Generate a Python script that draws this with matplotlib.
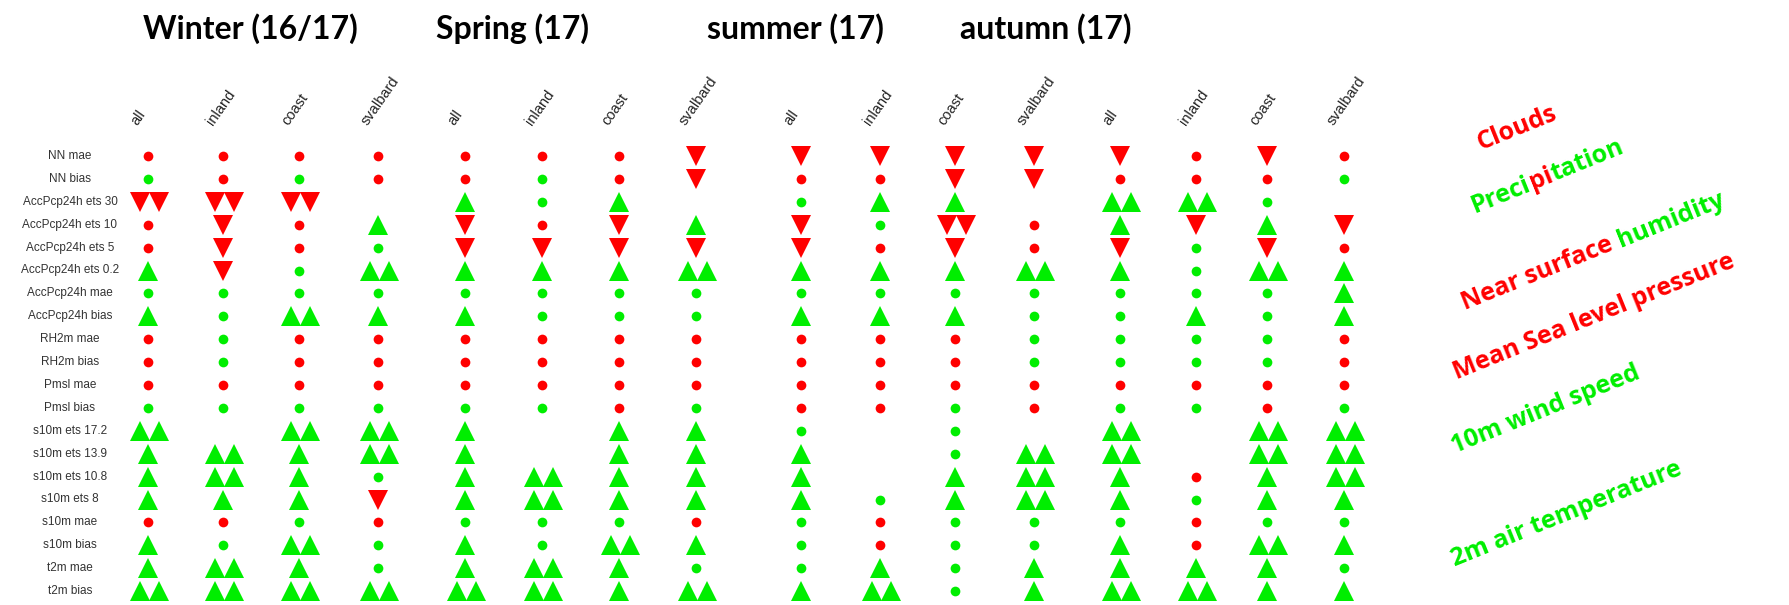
import matplotlib
matplotlib.use('Agg')
import matplotlib.pyplot as plt
import numpy as np

# r = red dot, g = green dot, u = green up, U = two green up, d = red down, D = two red down, _ = nothing
rows = ['NN mae', 'NN bias', 'AccPcp24h ets 30', 'AccPcp24h ets 10', 'AccPcp24h ets 5',
        'AccPcp24h ets 0.2', 'AccPcp24h mae', 'AccPcp24h bias', 'RH2m mae', 'RH2m bias',
        'Pmsl mae', 'Pmsl bias', 's10m ets 17.2', 's10m ets 13.9', 's10m ets 10.8',
        's10m ets 8', 's10m mae', 's10m bias', 't2m mae', 't2m bias']
regions = ['all', 'inland', 'coast', 'svalbard']
seasons = ['Winter (16/17)', 'Spring (17)', 'summer (17)', 'autumn (17)']

# one string per row, 16 columns (4 seasons x 4 regions)
winter = ['rrrr', 'grgr', 'DDD_', 'rdru', 'rdrg', 'udgU', 'gggg', 'ugUu', 'rgrr', 'rgrr',
          'rrrr', 'gggg', 'U_UU', 'uUuU', 'uUug', 'uuud', 'rrgr', 'ugUg', 'uUug', 'UUUU']
spring = ['rrrd', 'rgrd', 'ugu_', 'drdu', 'dddd', 'uuuU', 'gggg', 'uggg', 'rrrr', 'rrrr',
          'rrrr', 'ggrg', 'u_uu', 'u_uu', 'uUuu', 'uUuu', 'gggr', 'ugUu', 'uUug', 'UUuU']
summer = ['dddd', 'rrdd', 'guu_', 'dgDr', 'drdr', 'uuuU', 'gggg', 'uuug', 'rrrg', 'rrrg',
          'rrrr', 'rrgr', 'g_g_', 'u_gU', 'u_uU', 'uguU', 'grgg', 'grgg', 'gugu', 'uUgu']
autumn = ['drdr', 'rrrg', 'UUg_', 'udud', 'dgdr', 'ugUu', 'gggu', 'gugu', 'gggr', 'gggr',
          'rrrr', 'ggrg', 'U_UU', 'U_UU', 'uruU', 'uguu', 'grgg', 'urUu', 'uuug', 'UUuu']
grid = [w + s + su + a for w, s, su, a in zip(winter, spring, summer, autumn)]

col_x = [148, 223, 299, 378, 465, 542, 619, 696, 801, 880, 955, 1034, 1120, 1196, 1267, 1344]
title_x = [250, 512, 795, 1046]
row_y0, row_dy = 156, 22.9

RED, GREEN = '#ff0000', '#00ee00'
style = {'r': ('o', RED, 7), 'g': ('o', GREEN, 7), 'u': ('^', GREEN, 15),
         'd': ('v', RED, 15)}

fig = plt.figure(figsize=(17.89, 6.05), dpi=100)
ax = fig.add_axes([0, 0, 1, 1])
ax.set_xlim(0, 1789)
ax.set_ylim(605, 0)
ax.axis('off')

for i, row in enumerate(grid):
    y = row_y0 + i * row_dy
    ax.text(70, y, rows[i], ha='center', va='center', fontsize=8.5,
            family='Liberation Sans', color='#333333')
    for j, c in enumerate(row):
        if c == '_':
            continue
        m, col, ms = style[c.lower()]
        xs = [col_x[j]] if c.islower() else [col_x[j] - 8, col_x[j] + 11]
        ax.plot(xs, [y] * len(xs), ls='none', marker=m, color=col, markersize=ms,
                markeredgewidth=0)

for j, x in enumerate(col_x):
    ax.text(x - 8, 128, regions[j % 4], rotation=55, rotation_mode='anchor',
            ha='left', va='bottom', fontsize=10.5, family='Liberation Sans', color='#222222')

for s, x in zip(seasons, title_x):
    ax.text(x, 29, s, ha='center', va='center', fontsize=23, fontweight='bold',
            family='Lato')

# coloured labels on the right
labels = [
    [('Clouds', RED)],
    [('Preci', GREEN), ('pi', RED), ('tation', GREEN)],
    [('Near surface ', RED), ('humidity', GREEN)],
    [('Mean Sea level pressure', RED)],
    [('10m wind speed', GREEN)],
    [('2m air temperature', GREEN)],
]
label_xy = [(1480, 150), (1475, 213), (1465, 310), (1457, 379), (1455, 453), (1455, 566)]
ang = 22
renderer = fig.canvas.get_renderer()
dx, dy = np.cos(np.radians(ang)), -np.sin(np.radians(ang))
for parts, (x0, y0) in zip(labels, label_xy):
    x, y = x0, y0
    for txt, col in parts:
        ax.text(x, y, txt, rotation=ang, rotation_mode='anchor', ha='left',
                va='baseline', fontsize=18, fontweight='bold', family='Open Sans',
                color=col)
        probe = ax.text(0, 0, txt.replace(' ', '\u00a0'), fontsize=18, fontweight='bold',
                        family='Open Sans')
        w = probe.get_window_extent(renderer).width
        probe.remove()
        x += w * dx
        y += w * dy

fig.savefig('out.png', dpi=100)
